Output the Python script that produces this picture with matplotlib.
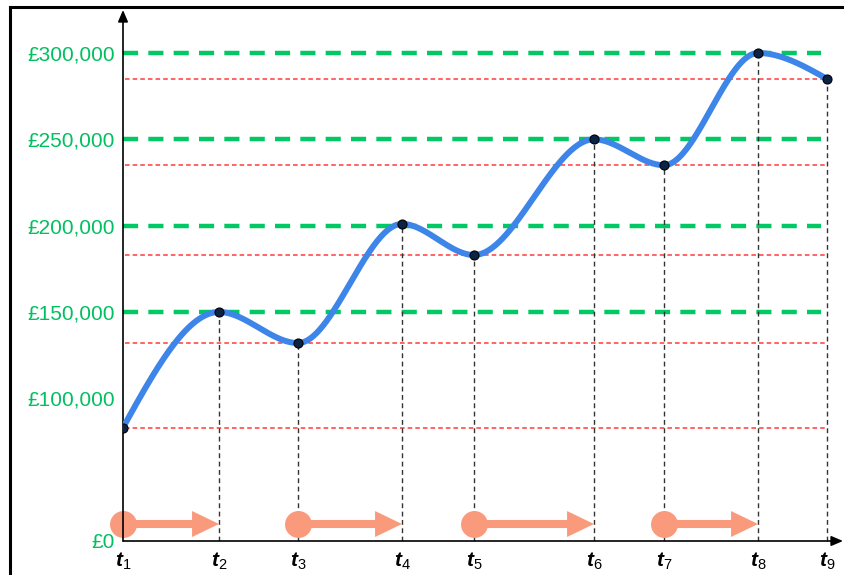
import numpy as np
import matplotlib
matplotlib.use("Agg")
import matplotlib.pyplot as plt
from matplotlib.patches import FancyArrowPatch
from matplotlib.lines import Line2D
from matplotlib.transforms import blended_transform_factory

plt.rcParams['font.family'] = ['Liberation Sans', 'DejaVu Sans']
plt.rcParams['mathtext.fontset'] = 'custom'
plt.rcParams['mathtext.rm'] = 'Liberation Sans'
plt.rcParams['mathtext.bf'] = 'Liberation Sans:bold'
plt.rcParams['mathtext.it'] = 'Liberation Sans:italic'
plt.rcParams['mathtext.bfit'] = 'Liberation Sans:bold:italic'

# time positions (arbitrary units) and values at t1..t9
t_pos = [0, 96, 175, 279, 351, 471, 541, 635, 704]
t_labels = [r'$\mathbfit{t}_{%d}$' % i for i in range(1, 10)]
values = [83000, 150000, 132000, 201000, 183000, 250000, 235000, 300000, 285000]

# green reference levels and y tick labels
levels = [150000, 200000, 250000, 300000]
y_ticks = [100000, 150000, 200000, 250000, 300000]
y_tick_labels = ['£100,000', '£150,000', '£200,000', '£250,000', '£300,000']

# rising spans shown with orange arrows (start index, end index)
spans = [(0, 1), (2, 3), (4, 5), (6, 7)]

y_bottom, y_top = 17350, 324900

BLUE = '#3d85e8'
GREEN = '#00c864'
LABEL_GREEN = '#00c060'
RED = '#ff3a3a'
ORANGE = '#f99a7c'


def smooth_curve(x, y, xs):
    # cubic Hermite: flat at every turning point, zero curvature at the ends
    x = np.asarray(x, float)
    y = np.asarray(y, float)
    h = np.diff(x)
    d = np.diff(y) / h
    n = len(x)
    m = np.zeros(n)
    m[0] = 1.5 * d[0]
    m[-1] = 1.5 * d[-1]
    out = np.empty_like(xs)
    for i, xv in enumerate(xs):
        k = min(np.searchsorted(x, xv, side='right') - 1, n - 2)
        s = (xv - x[k]) / h[k]
        h00 = 2 * s**3 - 3 * s**2 + 1
        h10 = s**3 - 2 * s**2 + s
        h01 = -2 * s**3 + 3 * s**2
        h11 = s**3 - s**2
        out[i] = h00 * y[k] + h10 * h[k] * m[k] + h01 * y[k + 1] + h11 * h[k] * m[k + 1]
    return out


fig = plt.figure(figsize=(8.44, 5.75), dpi=100)
ax = fig.add_axes([123 / 844, 34 / 575, 720 / 844, 531 / 575])
ax.set_xlim(0, 720)
ax.set_ylim(y_bottom, y_top)
for s in ax.spines.values():
    s.set_visible(False)

# green dashed levels
for lv in levels:
    ax.plot([t_pos[0], t_pos[-1] - 6], [lv, lv], color=GREEN, lw=3.2,
            dashes=(3.4, 2.3), solid_capstyle='butt', zorder=2)

# red dotted lines at troughs / ends
for i in [0, 2, 4, 6, 8]:
    ax.plot([t_pos[0] + 2, t_pos[-1]], [values[i], values[i]], color=RED,
            lw=1.1, dashes=(3.0, 2.0), zorder=2)

# black dashed verticals
for tx, v in zip(t_pos[1:], values[1:]):
    ax.plot([tx, tx], [y_bottom, v], color='#333333', lw=1.0,
            dashes=(3.5, 2.5), zorder=2)

# smooth curve
xs = np.linspace(t_pos[0], t_pos[-1], 600)
ax.plot(xs, smooth_curve(t_pos, values, xs), color=BLUE, lw=4.3,
        solid_capstyle='round', zorder=4)
ax.plot(t_pos, values, 'o', ms=6.5, color='#0b2344', mec='#000000',
        mew=0.8, zorder=5)

# orange arrows
tr = blended_transform_factory(ax.transData, ax.transAxes)
for a, b in spans:
    arr = FancyArrowPatch((t_pos[a], 0.032), (t_pos[b], 0.032), transform=tr,
                          arrowstyle='simple,head_length=1.94,head_width=1.87,tail_width=0.58',
                          mutation_scale=10, shrinkA=0, shrinkB=0,
                          color=ORANGE, lw=0, zorder=3, clip_on=False)
    ax.add_patch(arr)
    ax.plot([t_pos[a]], [0.032], 'o', ms=19.4, color=ORANGE, mew=0,
            transform=tr, zorder=3, clip_on=False)

# axes with arrows
ax.annotate('', xy=(1.0, 0), xytext=(0, 0), xycoords='axes fraction',
            arrowprops=dict(arrowstyle='-|>,head_length=0.7,head_width=0.3',
                            color='black', lw=1.2, shrinkA=0, shrinkB=0))
ax.annotate('', xy=(0, 1.0), xytext=(0, 0), xycoords='axes fraction',
            arrowprops=dict(arrowstyle='-|>,head_length=0.7,head_width=0.3',
                            color='black', lw=1.2, shrinkA=0, shrinkB=0))

# ticks
ax.set_yticks([y_bottom] + y_ticks)
ax.set_yticklabels(['£0'] + y_tick_labels, color=LABEL_GREEN, fontsize=15)
ax.tick_params(axis='y', length=0, pad=6)
ax.set_xticks(t_pos)
ax.set_xticklabels(t_labels, fontsize=15, color='black')
ax.tick_params(axis='x', length=0, pad=7)

# outer frame (left and top edges)
fig.add_artist(Line2D([10 / 844, 10 / 844], [0, 1 - 7 / 575], color='black',
                      lw=2.2, transform=fig.transFigure))
fig.add_artist(Line2D([10 / 844, 1], [1 - 7 / 575, 1 - 7 / 575], color='black',
                      lw=2.2, transform=fig.transFigure))

fig.savefig('out.png', dpi=100)
